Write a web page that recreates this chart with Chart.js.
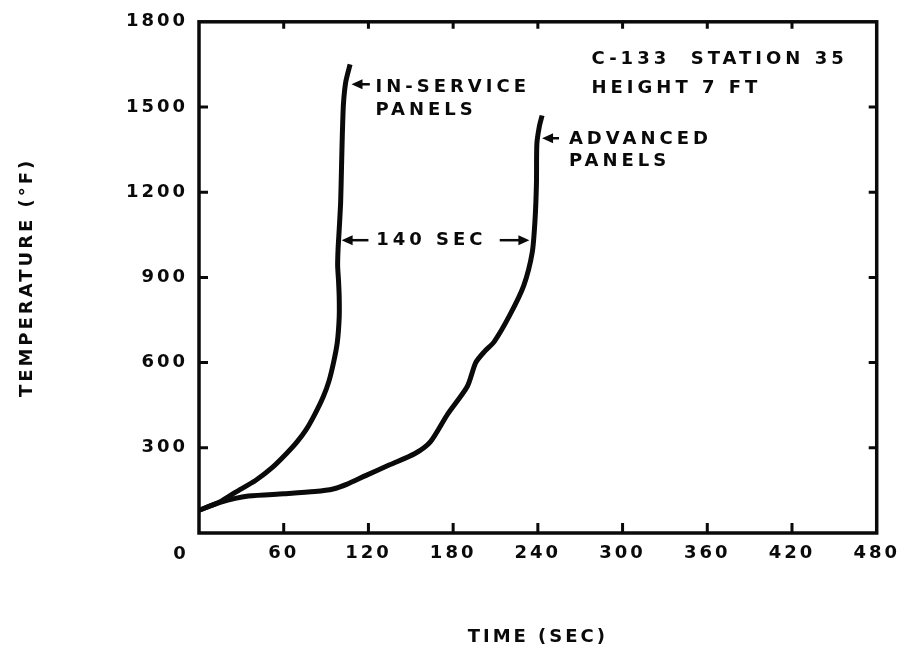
<!DOCTYPE html>
<html>
<head>
<meta charset="utf-8">
<script src="https://cdn.jsdelivr.net/npm/chart.js@4.4.0/dist/chart.umd.min.js"></script>
<style>
  html, body { margin: 0; padding: 0; background: #fff; }
  #wrap { width: 910px; height: 654px; }
</style>
</head>
<body>
<div id="wrap"><canvas id="myChart" width="910" height="654"></canvas></div>
<script>
var timeTicks = [0, 60, 120, 180, 240, 300, 360, 420, 480];
var tempTicks = [0, 300, 600, 900, 1200, 1500, 1800];

var inServiceTime = [0, 15, 26, 40, 52, 62, 69, 76, 82, 88, 92, 95.5, 98, 99.3, 99.3, 98.8, 98.2, 98.5, 99.2, 100.3, 101, 101.5, 102.3, 104, 107];
var inServiceTemp = [80, 110, 144, 185, 231, 280, 318, 365, 418, 480, 534, 605, 673, 760, 830, 890, 940, 1000, 1060, 1162, 1300, 1400, 1510, 1590, 1650];

var advancedTime = [0, 15, 35, 60, 82, 95, 105, 118, 135, 153, 164, 176, 190, 196, 202, 209, 220, 230, 236, 238, 239, 239.3, 241, 243];
var advancedTemp = [80, 108, 130, 138, 146, 155, 172, 202, 240, 280, 322, 418, 516, 600, 638, 673, 766, 871, 987, 1103, 1230, 1370, 1430, 1470];

// notes on the plot, in data units (time, temperature)
var noteText = ['IN-SERVICE', 'PANELS', 'ADVANCED', 'PANELS', 'C-133  STATION 35', 'HEIGHT 7 FT', '140 SEC'];
var noteTime = [125, 125, 262, 262, 278, 278, 125.5];
var noteTemp = [1570, 1490, 1385, 1308, 1667, 1566, 1029];

var arrowFrom = [[121, 1580], [255, 1390], [120, 1031], [213, 1031]];
var arrowTo   = [[108, 1580], [243, 1390], [101, 1031], [234, 1031]];

function toPoints(xs, ys) {
    var pts = [];
    for (var i = 0; i < xs.length; i++) {
        pts.push({x: xs[i], y: ys[i]});
    }
    return pts;
}

function noZero(v) {
    return v === 0 ? '' : String(v);
}

var labelFont = {family: 'DejaVu Sans', weight: 'bold', size: 18};
var ink = '#0a0a0a';

var spacing = {
    id: 'spacing',
    beforeUpdate: function(chart) { chart.ctx.letterSpacing = '3px'; },
    beforeDraw: function(chart) { chart.ctx.letterSpacing = '3px'; }
};

var frame = {
    id: 'frame',
    afterDraw: function(chart) {
        var ctx = chart.ctx;
        var a = chart.chartArea;
        var xs = chart.scales.x, ys = chart.scales.y;
        ctx.save();
        ctx.strokeStyle = ink;
        ctx.lineWidth = 3.5;
        ctx.strokeRect(a.left, a.top, a.right - a.left, a.bottom - a.top);

        ctx.lineWidth = 3;
        ctx.beginPath();
        timeTicks.slice(1, -1).forEach(function(v) {
            var px = xs.getPixelForValue(v);
            ctx.moveTo(px, a.bottom);
            ctx.lineTo(px, a.bottom - 10);
            ctx.moveTo(px, a.top);
            ctx.lineTo(px, a.top + 7);
        });
        tempTicks.slice(1, -1).forEach(function(v) {
            var py = ys.getPixelForValue(v);
            ctx.moveTo(a.left, py);
            ctx.lineTo(a.left + 9, py);
            ctx.moveTo(a.right, py);
            ctx.lineTo(a.right - 8, py);
        });
        ctx.stroke();

        // arrows
        ctx.fillStyle = ink;
        ctx.lineWidth = 2.5;
        for (var i = 0; i < arrowFrom.length; i++) {
            var x0 = xs.getPixelForValue(arrowFrom[i][0]), y0 = ys.getPixelForValue(arrowFrom[i][1]);
            var x1 = xs.getPixelForValue(arrowTo[i][0]), y1 = ys.getPixelForValue(arrowTo[i][1]);
            var dir = x1 > x0 ? 1 : -1;
            ctx.beginPath();
            ctx.moveTo(x0, y0);
            ctx.lineTo(x1 - dir * 8, y1);
            ctx.stroke();
            ctx.beginPath();
            ctx.moveTo(x1, y1);
            ctx.lineTo(x1 - dir * 11, y1 - 5);
            ctx.lineTo(x1 - dir * 11, y1 + 5);
            ctx.closePath();
            ctx.fill();
        }

        // shared origin label, sits left of the corner
        ctx.font = 'bold 18px "DejaVu Sans"';
        ctx.letterSpacing = '3px';
        ctx.textAlign = 'center';
        ctx.textBaseline = 'middle';
        ctx.fillText('0', xs.getPixelForValue(0) - 18, ys.getPixelForValue(0) + 21);

        // notes
        ctx.letterSpacing = '4px';
        ctx.textAlign = 'left';
        for (var j = 0; j < noteText.length; j++) {
            ctx.fillText(noteText[j], xs.getPixelForValue(noteTime[j]), ys.getPixelForValue(noteTemp[j]));
        }
        ctx.restore();
    }
};

var ctx = document.getElementById('myChart').getContext('2d');
var myChart = new Chart(ctx, {
    type: 'scatter',
    data: {
        datasets: [{
            label: 'In-service panels',
            data: toPoints(inServiceTime, inServiceTemp),
            showLine: true,
            borderColor: ink,
            borderWidth: 5,
            pointRadius: 0,
            tension: 0.2,
            fill: false
        }, {
            label: 'Advanced panels',
            data: toPoints(advancedTime, advancedTemp),
            showLine: true,
            borderColor: ink,
            borderWidth: 5,
            pointRadius: 0,
            tension: 0.25,
            fill: false
        }]
    },
    options: {
        responsive: false,
        animation: false,
        layout: {
            padding: {top: 17, right: 27, left: 0, bottom: 0}
        },
        plugins: {
            legend: {display: false},
            tooltip: {enabled: false}
        },
        scales: {
            x: {
                type: 'linear',
                min: 0,
                max: 480,
                afterBuildTicks: function(scale) {
                    scale.ticks = timeTicks.map(function(v) { return {value: v}; });
                },
                afterFit: function(scale) { scale.height = 121; },
                grid: {display: false, drawTicks: false},
                border: {display: false},
                ticks: {
                    padding: 10,
                    color: ink,
                    font: labelFont,
                    maxRotation: 0,
                    autoSkip: false,
                    callback: noZero
                },
                title: {
                    display: true,
                    text: 'TIME (SEC)',
                    color: ink,
                    font: labelFont,
                    padding: {bottom: 6}
                }
            },
            y: {
                type: 'linear',
                min: 0,
                max: 1800,
                afterBuildTicks: function(scale) {
                    scale.ticks = tempTicks.map(function(v) { return {value: v}; });
                },
                afterFit: function(scale) { scale.width = 199; },
                grid: {display: false, drawTicks: false},
                border: {display: false},
                ticks: {
                    padding: 11,
                    color: ink,
                    font: labelFont,
                    callback: noZero
                },
                title: {
                    display: true,
                    text: 'TEMPERATURE (°F)',
                    color: ink,
                    font: labelFont,
                    padding: {top: 17}
                }
            }
        }
    },
    plugins: [spacing, frame]
});
</script>
</body>
</html>
